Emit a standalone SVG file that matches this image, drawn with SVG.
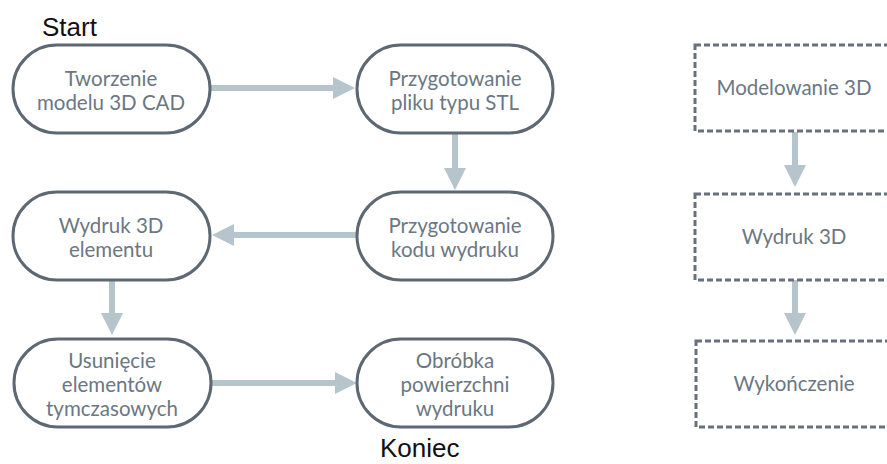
<svg xmlns="http://www.w3.org/2000/svg" width="887" height="464" viewBox="0 0 887 464">
<style>
.pill{fill:#fff;stroke:#5d6873;stroke-width:3}
.dbox{fill:#fff;stroke:#66717c;stroke-width:3;stroke-dasharray:6 3}
.t{font-family:Lato,"Open Sans","DejaVu Sans",sans-serif;font-size:20.5px;fill:#6b7783;text-anchor:middle}
.lbl{font-family:"Liberation Sans",Arial,sans-serif;font-size:26px;fill:#111}
.c{stroke:#b5c5cb;stroke-width:6;fill:none;marker-end:url(#ah)}
</style>
<defs>
<marker id="ah" markerUnits="userSpaceOnUse" markerWidth="22" markerHeight="22" refX="0" refY="11" orient="auto">
<path d="M0,0 L22,11 L0,22 z" fill="#b5c5cb"/>
</marker>
</defs>
<rect width="887" height="464" fill="#fff"/>
<text class="lbl" x="42" y="36">Start</text>
<text class="lbl" x="380" y="457">Koniec</text>
<g id="connectors">
<line class="c" x1="210" y1="88" x2="333" y2="88"/>
<line class="c" x1="455" y1="133" x2="455" y2="168"/>
<line class="c" x1="357" y1="235" x2="234" y2="235"/>
<line class="c" x1="112" y1="280" x2="112" y2="313"/>
<line class="c" x1="211" y1="383" x2="335" y2="383"/>
<line class="c" x1="795" y1="132" x2="795" y2="165"/>
<line class="c" x1="795" y1="280" x2="795" y2="313"/>
</g>
<g id="n1"><rect class="pill" x="13" y="45" width="197" height="88" rx="44"/>
<text class="t" x="111" y="86">Tworzenie</text><text class="t" x="111" y="110">modelu 3D CAD</text></g>
<g id="n2"><rect class="pill" x="357" y="45" width="196" height="88" rx="44"/>
<text class="t" x="455" y="86">Przygotowanie</text><text class="t" x="455" y="110">pliku typu STL</text></g>
<g id="n3"><rect class="pill" x="357" y="192" width="196" height="88" rx="44"/>
<text class="t" x="455" y="233">Przygotowanie</text><text class="t" x="455" y="257">kodu wydruku</text></g>
<g id="n4"><rect class="pill" x="13" y="192" width="197" height="88" rx="44"/>
<text class="t" x="111" y="233">Wydruk 3D</text><text class="t" x="111" y="257">elementu</text></g>
<g id="n5"><rect class="pill" x="14" y="339" width="197" height="88" rx="44"/>
<text class="t" x="112" y="368">Usunięcie</text><text class="t" x="112" y="392">elementów</text><text class="t" x="112" y="416">tymczasowych</text></g>
<g id="n6"><rect class="pill" x="357" y="339" width="196" height="88" rx="44"/>
<text class="t" x="455" y="368">Obróbka</text><text class="t" x="455" y="392">powierzchni</text><text class="t" x="455" y="416">wydruku</text></g>
<g id="r1"><rect class="dbox" x="695" y="45" width="200" height="86"/>
<text class="t" x="794" y="95">Modelowanie 3D</text></g>
<g id="r2"><rect class="dbox" x="695" y="194" width="200" height="86"/>
<text class="t" x="794" y="244">Wydruk 3D</text></g>
<g id="r3"><rect class="dbox" x="696" y="341" width="200" height="86"/>
<text class="t" x="794" y="391">Wykończenie</text></g>
</svg>
